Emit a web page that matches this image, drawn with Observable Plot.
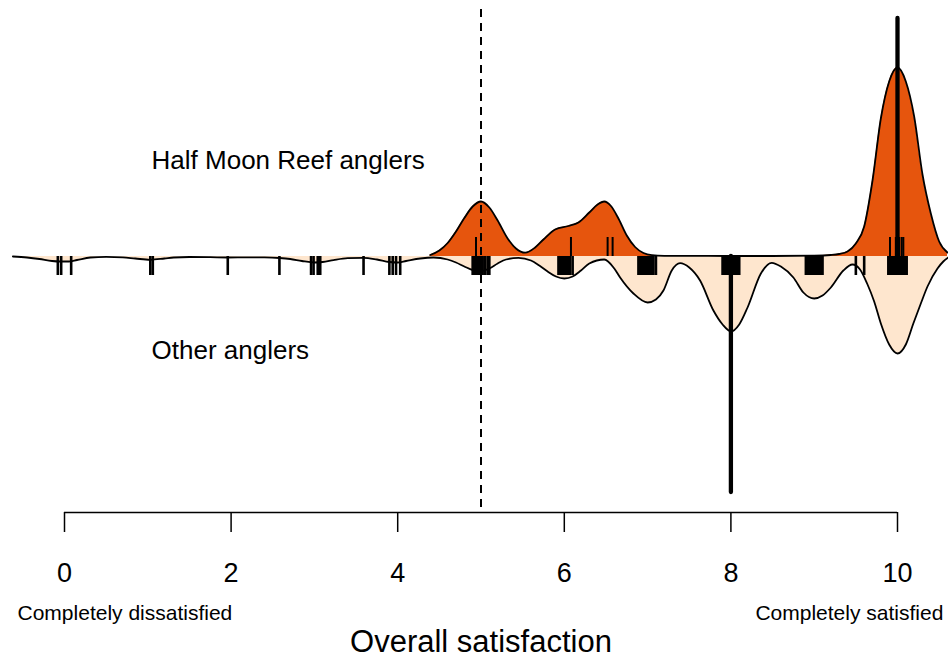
<!DOCTYPE html>
<html><head><meta charset="utf-8">
<script src="https://cdn.jsdelivr.net/npm/d3@7"></script>
<script src="https://cdn.jsdelivr.net/npm/@observablehq/plot@0.6"></script>
<style>body{margin:0;background:#fff;} #chart{width:948px;height:660px;}</style>
</head><body><div id="chart"></div>
<script>
// Density of Half Moon Reef anglers (upper half)
const hmrX = [4.39,4.5,4.6,4.7,4.8,4.9,5.0,5.1,5.2,5.32,5.42,5.53,5.65,5.75,5.89,6.05,6.17,6.3,6.4,6.48,6.56,6.65,6.75,6.85,6.95,7.05,7.2,7.5,8.0,8.5,9.0,9.2,9.3,9.4,9.5,9.6,9.7,9.8,9.9,10.0,10.1,10.2,10.3,10.4,10.5,10.6];
const hmrDensity = [1.5,6,13.5,25,38.5,50,55,49,36,18,8,3.8,9,17,27,30.5,34,44,52,55,50.5,38,21,9.5,3.5,1.3,0.7,0.6,0.5,0.5,0.8,1.5,2.5,5,13,30,76,138,175,189,175,140,82,43,15,4];
// Density of Other anglers (lower half)
const otherX = [-0.62,-0.45,-0.3,-0.15,-0.05,0.05,0.15,0.31,0.5,0.7,0.85,1.03,1.2,1.31,1.5,1.75,1.96,2.2,2.4,2.58,2.71,2.85,3.0,3.1,3.23,3.4,3.59,3.75,3.9,4.0,4.1,4.27,4.43,4.6,4.7,4.8,4.9,5.0,5.1,5.2,5.3,5.45,5.6,5.7,5.8,5.9,6.0,6.1,6.2,6.3,6.48,6.6,6.67,6.83,7.0,7.1,7.19,7.29,7.39,7.5,7.63,7.79,7.9,8.0,8.1,8.2,8.36,8.49,8.6,8.75,8.87,9.0,9.1,9.2,9.35,9.46,9.55,9.635,9.72,9.8,9.9,10.0,10.1,10.19,10.28,10.36,10.48,10.55,10.61];
const otherDensity = [0,1,2.5,4.5,5,5,3.5,1,0.3,0.8,2,3.3,2,1,0.5,0.7,1,0.8,0.9,1.5,2.5,4.5,6,5.5,3.6,1.7,1.3,3,5.5,6,4.5,2,1,3,6,10,13.5,14.5,12,7,3,1.3,4,9,15,20,22,20,14,7,3,12,21,37,46,43,34,14,6.7,11,24,54,68,75,68,51,17,6.3,10,21,36,42,39,31,14,8,13,27,45,67,88,97,88,67,47,30,12,5,1];
// Individual responses (rug lines)
const hmrResponses = [4.94,6.08,6.52,6.58,9.91,9.98,10.02,10.05,10.07];
const otherResponses = [-0.08,-0.04,0.08,1.03,1.06,1.96,2.58,2.96,2.99,3.04,3.07,3.59,3.9,3.94,3.98,4.03,
  4.9,4.92,4.94,4.96,4.98,5.0,5.02,5.05,5.08,5.1,
  5.93,5.95,5.97,5.99,6.01,6.03,6.05,6.07,6.1,
  6.89,6.91,6.93,6.95,6.97,6.99,7.01,7.03,7.05,7.07,7.1,
  7.9,7.92,7.94,7.96,7.98,8.0,8.02,8.04,8.06,8.08,8.1,
  8.9,8.92,8.94,8.96,8.98,9.0,9.02,9.04,9.06,9.08,9.1,
  9.5,9.6,
  9.89,9.91,9.93,9.95,9.97,9.99,10.01,10.03,10.05,10.07,10.09,10.11];
const medians = [{group:"Half Moon Reef anglers", value:10, side:1},{group:"Other anglers", value:8, side:-1}];
const groupLabels = ["Half Moon Reef anglers","Other anglers"];
const tickValues = [0,2,4,6,8,10];
const endLabels = ["Completely dissatisfied","Completely satisfied"];
const xLabel = "Overall satisfaction";
const reference = 5;

const hmr = hmrX.map((x,i)=>({x, d: hmrDensity[i]}));
const other = otherX.map((x,i)=>({x, d: otherDensity[i]}));

const chart = Plot.plot({
  width: 948, height: 660,
  marginLeft: 0, marginRight: 0, marginTop: 0, marginBottom: 148,
  style: {fontFamily: "'Liberation Sans', Arial, Helvetica, sans-serif", color: "black", background: "white"},
  x: {domain: [0, 10], range: [64, 897], label: null},
  y: {domain: [0, 256], range: [256, 0], axis: null},
  marks: [
    Plot.areaY(hmr, {x: "x", y1: 0, y2: "d", fill: "#E6550D", curve: "monotone-x"}),
    Plot.areaY(other, {x: "x", y1: 0, y2: d => -d.d, fill: "#FEE6CE", curve: "monotone-x"}),
    Plot.line(hmr, {x: "x", y: "d", stroke: "black", strokeWidth: 1.8, curve: "monotone-x"}),
    Plot.line(other, {x: "x", y: d => -d.d, stroke: "black", strokeWidth: 1.8, curve: "monotone-x"}),
    Plot.ruleX([reference], {x: d => d, y1: 247, y2: -256, stroke: "black", strokeWidth: 2, strokeDasharray: "8,6"}),
    Plot.ruleX(hmrResponses, {x: d => d, y1: 0, y2: 19, stroke: "black", strokeWidth: 2}),
    Plot.ruleX(otherResponses, {x: d => d, y1: 0, y2: -19, stroke: "black", strokeWidth: 2.6}),
    Plot.ruleX(medians, {x: "value", y1: 0, y2: d => d.side > 0 ? 238 : -236, stroke: "black", strokeWidth: 4.3, strokeLinecap: "round"}),
    Plot.text(groupLabels, {x: 1.045, y: (d, i) => i === 0 ? 96 : -93.7, text: d => d, textAnchor: "start", fontSize: 26, fill: "black"}),
    Plot.ruleY([-256], {x1: 0, x2: 10, stroke: "black", strokeWidth: 1.5}),
    Plot.axisX({ticks: tickValues, tickFormat: d => String(d), tickSize: 20, tickPadding: 30, fontSize: 27, strokeWidth: 1.5, anchor: "bottom", fill: "black"}),
    Plot.text([endLabels[0]], {x: -0.564, y: -357, text: d => d, textAnchor: "start", fontSize: 21, fill: "black"}),
    Plot.text([endLabels[1]], {x: 10.55, y: -357, text: d => d, textAnchor: "end", fontSize: 21, fill: "black"}),
    Plot.text([xLabel], {x: 5, y: -386, text: d => d, fontSize: 31, fill: "black"})
  ]
});
document.getElementById("chart").appendChild(chart);
</script>
</body></html>
